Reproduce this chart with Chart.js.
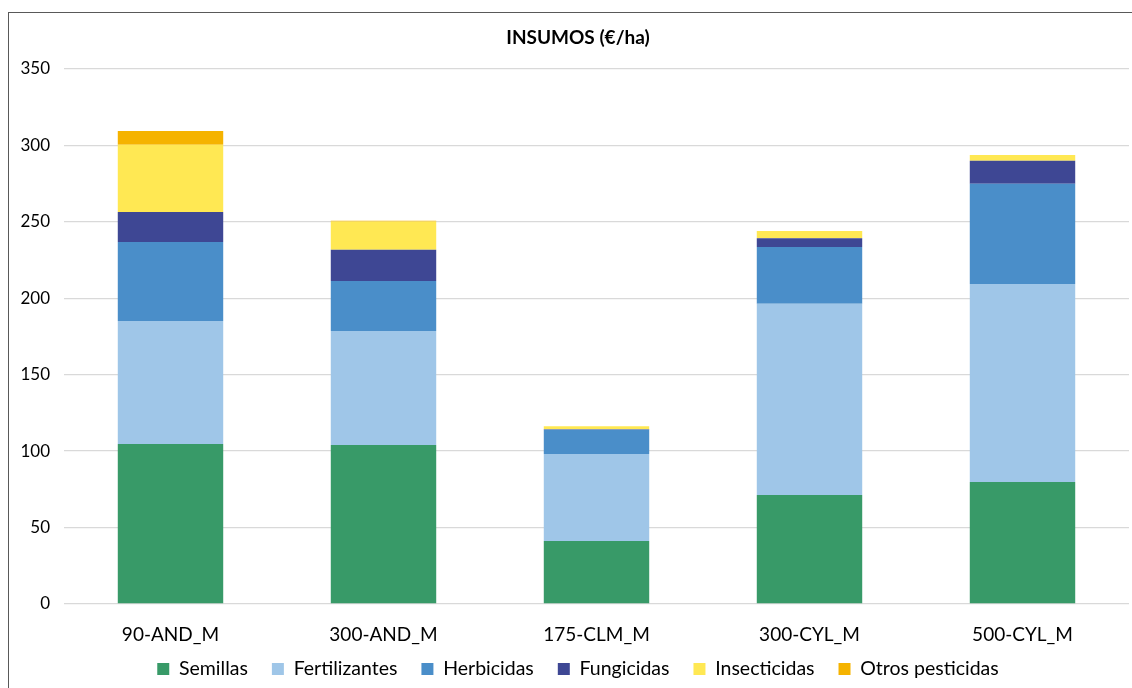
<!DOCTYPE html>
<html>
<head>
<meta charset="utf-8">
<script src="https://cdn.jsdelivr.net/npm/chart.js@4.4.0/dist/chart.umd.min.js"></script>
<style>
html,body{margin:0;padding:0;background:#fff;overflow:hidden;}
#wrap{position:absolute;left:8px;top:12px;width:1146px;height:680px;border-left:1.5px solid #595959;border-top:1.5px solid #595959;box-sizing:border-box;}
#c{display:block;}
</style>
</head>
<body>
<div id="wrap"><canvas id="c" width="1138" height="676"></canvas></div>
<script>
const categories = ['90-AND_M','300-AND_M','175-CLM_M','300-CYL_M','500-CYL_M'];
const semillas = [104.7, 104.0, 41.2, 71.3, 79.8];
const fertilizantes = [80.4, 74.6, 56.9, 125.0, 129.5];
const herbicidas = [51.7, 32.7, 15.9, 37.2, 65.5];
const fungicidas = [19.6, 20.3, 0.3, 5.7, 15.0];
const insecticidas = [43.9, 18.5, 1.9, 4.8, 3.9];
const otrosPesticidas = [9.1, 0.5, 0, 0, 0];
const seriesNames = ['Semillas','Fertilizantes','Herbicidas','Fungicidas','Insecticidas','Otros pesticidas'];
const yTicks = [0,50,100,150,200,250,300,350];

const colors = ['#389A68','#9FC6E8','#4A8EC9','#3E4794','#FFE853','#F5B300'];
const seriesData = [semillas, fertilizantes, herbicidas, fungicidas, insecticidas, otrosPesticidas];

const FONT = "Lato, 'Open Sans', sans-serif";

const chart = new Chart(document.getElementById('c'), {
  type: 'bar',
  data: {
    labels: categories,
    datasets: seriesNames.map((n,i)=>({
      label: n,
      data: seriesData[i],
      backgroundColor: colors[i],
      borderWidth: 0,
      categoryPercentage: 1.0,
      barPercentage: 0.495
    }))
  },
  options: {
    responsive: false,
    animation: false,
    layout: { padding: { left: 0, right: 0, top: 13, bottom: 0 } },
    plugins: {
      title: {
        display: true,
        text: 'INSUMOS (€/ha)',
        color: '#000',
        font: { family: FONT, size: 19, weight: 'bold' },
        padding: { top: 0, bottom: 20 }
      },
      legend: {
        position: 'bottom',
        labels: {
          color: '#000',
          font: { family: FONT, size: 19.5 },
          boxWidth: 12, boxHeight: 12,
          padding: 24
        }
      },
      tooltip: { enabled: false }
    },
    scales: {
      x: {
        stacked: true,
        grid: { display: false },
        border: { display: false },
        afterFit: s => { s.height = 45; },
        ticks: { color: '#000', font: { family: FONT, size: 19 }, padding: 11 }
      },
      y: {
        stacked: true,
        min: 0, max: 350,
        afterBuildTicks: s => { s.ticks = yTicks.map(v=>({value:v})); },
        afterFit: s => { s.width = 55; },
        grid: { color: '#d9d9d9', lineWidth: 1.3, drawTicks: false },
        border: { display: false },
        ticks: { color: '#000', font: { family: FONT, size: 17 }, padding: 14 }
      },
      yRight: {
        position: 'right',
        type: 'linear',
        min: 0, max: 350,
        grid: { display: false, drawTicks: false },
        border: { display: false },
        ticks: { display: false },
        afterFit: s => { s.width = 18; }
      }
    }
  }
});
// compact legend box vertically, keep wide horizontal spacing between items
const lg = chart.legend;
const origFit = lg.fit.bind(lg);
const origDraw = lg.draw.bind(lg);
const LEGEND_SHIFT = 13.75;
lg.fit = function () { origFit(); this.height = 40; };
lg.draw = function () {
  if (typeof this._draw !== 'function') { origDraw(); return; }
  if (!this.options.display) return;
  const ctx = this.ctx;
  ctx.save();
  ctx.translate(0, -LEGEND_SHIFT);
  this._draw();
  ctx.restore();
};
chart.update();
</script>
</body>
</html>
